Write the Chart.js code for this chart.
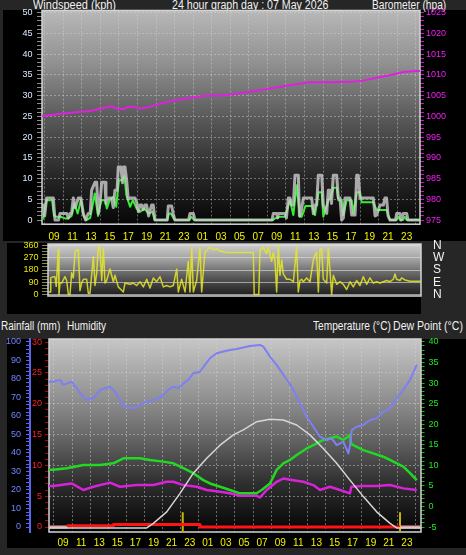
<!DOCTYPE html>
<html>
<head>
<meta charset="utf-8">
<script src="https://cdn.jsdelivr.net/npm/chart.js@4.4.1/dist/chart.umd.min.js"></script>
<style>
  body { margin: 0; width: 466px; height: 555px; background: #262626; position: relative; overflow: hidden;
         font-family: 'Liberation Sans', Arial, sans-serif; }
  .panel { position: absolute; background: #000; }
  .lbl { position: absolute; color: #f2f2f2; font-size: 12px; line-height: 12px; white-space: nowrap;
         transform-origin: 0 0; }
  canvas { position: absolute; left: 0; top: 0; }
</style>
</head>
<body>
<div class="panel" style="left:3px;top:10px;width:463px;height:231px"></div>
<div class="panel" style="left:7px;top:243px;width:414px;height:71px"></div>
<div class="panel" style="left:7px;top:339px;width:459px;height:209px"></div>

<div class="lbl" style="left:33px;top:-1px;transform:scaleX(0.915)">Windspeed (kph)</div>
<div class="lbl" style="left:172px;top:-1px;transform:scaleX(0.885)">24 hour graph day : 07 May 2026</div>
<div class="lbl" style="left:372px;top:-1px;transform:scaleX(0.85)">Barometer (hpa)</div>
<div class="lbl" style="left:1px;top:320px;transform:scaleX(0.83)">Rainfall (mm)</div>
<div class="lbl" style="left:67px;top:320px;transform:scaleX(0.835)">Humidity</div>
<div class="lbl" style="left:313px;top:320px;transform:scaleX(0.845)">Temperature (°C)</div>
<div class="lbl" style="left:393px;top:320px;transform:scaleX(0.88)">Dew Point (°C)</div>

<canvas id="windChart" width="466" height="555"></canvas>
<canvas id="dirChart" width="466" height="555"></canvas>
<canvas id="climateChart" width="466" height="555"></canvas>

<script>
// times are hours from midnight of the first day shown
const gust = [[7.71,3.6],[7.85,3.6],[8.0,1],[8.2,5.3],[8.93,5.3],[9.11,0],[9.5,0],[9.65,1.6],[10.37,1.6],[10.55,0.5],
  [10.72,1.6],[10.9,1.6],[11.08,5.3],[11.3,3],[11.62,5.3],[11.9,5.3],[12.16,1.6],[12.4,0],[12.7,1.6],[12.9,1.6],
  [13.06,7.2],[13.42,9.1],[13.6,9.1],[13.78,1.6],[14.0,5],[14.14,9.1],[14.5,9.1],[14.6,4],[14.85,5.3],[15.2,5.3],
  [15.39,3],[15.57,7.2],[15.8,7.2],[15.93,12.8],[16.2,12.8],[16.4,9],[16.5,12.8],[16.65,12.8],[16.83,9.6],[17.0,5],
  [17.19,5.3],[17.73,5.3],[17.91,4.3],[18.1,2],[18.27,3.6],[18.45,3.6],[18.62,2.5],[18.8,3.6],[18.98,3.6],[19.2,1],
  [19.52,3.6],[19.7,3.6],[19.88,0],[21.2,0],[21.32,3.4],[21.68,3.4],[21.85,1.5],[22.04,0],[23.5,0],[23.66,1.6],
  [24.01,1.6],[24.2,0],[32.5,0],[32.63,1.6],[33.0,1.6],[33.1,0.5],[33.17,1.6],[33.89,1.6],[34.05,0.5],[34.25,5.3],
  [34.43,5.3],[34.61,3.6],[34.79,3.6],[34.97,10.8],[35.33,10.8],[35.45,1],[35.6,1.6],[35.87,5.3],[36.77,5.3],[36.95,1.5],
  [37.13,3.6],[37.3,3.6],[37.48,10.8],[37.85,10.8],[38.02,3.6],[38.39,1.6],[38.56,7.2],[38.74,7.2],[38.9,4],[39.1,10.8],
  [39.46,10.8],[39.64,5.3],[39.82,5.3],[40.0,0],[40.18,0.5],[40.36,5.3],[40.9,5.3],[41.08,1.2],[41.44,1.2],[41.62,10.8],
  [41.79,10.8],[41.97,5.3],[43.41,5.3],[43.6,1],[43.77,1.2],[44.13,3.6],[44.49,3.6],[44.66,5.3],[44.84,5.3],[45.0,1],
  [45.21,0],[45.8,0],[45.93,1.6],[46.28,1.6],[46.4,0],[46.5,0],[46.64,1.6],[47.0,1.6],[47.15,0],[48.44,0]];

const avgWind = [[7.71,0],[7.85,0.5],[8.2,4.8],[8.8,4.8],[9.0,1],[9.3,0.8],[9.7,0.8],[10.2,0.4],[10.5,0.4],[10.9,1],
  [11.2,4],[11.55,1.6],[11.9,4.8],[12.2,1],[12.5,0],[12.9,0.5],[13.4,6.4],[13.75,1],[14.1,4.8],[14.5,4.8],
  [14.7,2.8],[15.0,4.8],[15.4,5.6],[15.7,3.2],[16.0,9.6],[16.3,9.6],[16.6,10.6],[16.8,6],[17.2,3.2],[17.5,4.8],
  [17.9,2.8],[18.3,2.0],[18.7,2.8],[19.2,1.6],[19.6,2],[19.85,0],[21.2,0],[21.4,1.6],[21.6,1.6],[22.0,0],
  [23.6,0],[23.8,0.8],[24.1,0],[32.6,0],[32.8,0.4],[33.35,0.8],[33.9,0.8],[34.43,4.8],[34.79,1.2],[35.15,8.4],
  [35.5,0.8],[35.7,0.8],[36.1,3.4],[36.8,3.4],[37.13,1.2],[37.5,6.7],[37.85,6.7],[38.02,0.8],[38.6,5],[38.74,5],
  [39.1,7.8],[39.46,7.8],[39.64,4.8],[40.0,4.8],[40.18,1.2],[40.54,4.8],[41.08,4.8],[41.26,1.6],[41.62,6.7],[41.97,6.7],
  [42.15,4.3],[43.41,4.3],[43.77,2.4],[44.84,2.4],[45.2,0],[45.9,0],[46.1,0.8],[46.3,0],[46.6,0],[46.8,0.8],
  [47.0,0],[48.44,0]];

const barometer = [[7.71,1000.0],[7.85,1000.1],[9.29,1000.5],[11.08,1000.9],[12.88,1001.3],[14.68,1002.2],[15.22,1002.5],
  [15.6,1002.0],[16.47,1001.7],[17.0,1002.3],[17.55,1002.3],[18.27,1001.8],[19.34,1002.3],[20.42,1003.0],[21.86,1003.8],
  [23.3,1004.3],[25.45,1005.0],[26.89,1005.0],[28.32,1005.3],[30.12,1005.9],[32.28,1006.7],[34.43,1007.5],[36.59,1008.2],
  [38.74,1008.2],[40.9,1008.3],[42.33,1008.6],[43.77,1009.3],[45.21,1009.9],[46.64,1010.7],[48.08,1010.9],[48.44,1010.9]];

const windDir = [[7.71,19],[7.92,19],[8.0,122],[8.28,131],[8.46,131],[8.6,60],[8.83,328],[8.9,0],[9.0,84],[9.19,84],
  [9.55,131],[9.74,103],[9.92,0],[10.1,0],[10.28,159],[10.46,122],[10.65,309],[10.83,328],[11.01,328],[11.19,28],
  [11.37,84],[11.56,112],[11.92,112],[12.1,9],[12.28,9],[12.65,281],[12.83,66],[13.0,150],[13.19,347],[13.37,347],
  [13.56,103],[13.74,337],[13.92,84],[14.1,103],[14.46,187],[14.83,94],[15.01,141],[15.37,56],[15.92,19],[16.1,84],
  [16.65,75],[17.01,84],[17.37,66],[17.74,94],[18.1,56],[18.47,112],[18.83,47],[19.19,122],[19.56,94],[19.92,131],
  [20.28,56],[20.65,66],[21.01,56],[21.37,66],[21.74,187],[21.92,19],[22.28,112],[22.65,19],[23.01,244],[23.19,19],
  [23.38,347],[23.56,19],[23.92,103],[24.28,347],[24.47,19],[24.65,169],[24.83,309],[25.19,337],[25.38,347],[25.74,328],
  [26.1,337],[26.47,319],[27.19,309],[29.74,309],[30.1,309],[30.2,0],[30.7,0],[30.83,328],[31.19,347],[31.56,300],
  [31.74,347],[32.1,244],[32.29,309],[32.47,244],[32.65,19],[32.83,356],[33.01,141],[33.2,253],[33.38,150],[33.56,131],
  [33.74,112],[34.1,112],[34.47,94],[34.83,347],[35.01,19],[35.2,103],[35.38,112],[35.56,94],[35.92,122],[36.29,94],
  [36.65,253],[36.83,290],[37.01,309],[37.2,19],[37.38,328],[37.56,337],[37.74,112],[38.11,84],[38.29,347],[38.65,0],
  [38.83,141],[39.2,75],[39.56,94],[39.92,75],[40.29,37],[40.65,94],[41.01,56],[41.38,103],[41.74,66],[42.1,131],
  [42.47,75],[42.83,122],[43.2,84],[43.56,94],[43.92,84],[44.29,94],[44.65,103],[45.01,94],[45.38,112],[45.56,150],
  [45.74,112],[46.1,103],[46.29,122],[46.65,107],[47.2,98],[48.4,98]];

const humidity = [[7.45,78.5],[7.93,78.5],[8.67,79.5],[9.04,76.8],[9.96,78.5],[10.51,75],[11.06,71.4],[11.62,68.6],
  [12.17,69.5],[12.54,70.4],[13.09,74.1],[13.64,75],[14.19,75.8],[14.75,73.1],[15.3,68.6],[15.67,65],[16.22,65],
  [16.77,64.1],[17.51,65.9],[18.25,67.7],[18.98,68.6],[19.53,69.5],[20.09,71.4],[20.64,74.1],[21.19,75.8],[21.75,75],
  [22.3,77.6],[22.85,79.5],[23.4,83.1],[24.14,83.9],[24.69,87.6],[25.24,91.2],[25.98,93.9],[26.72,94.8],[27.45,95.7],
  [28.19,96.2],[28.56,96.6],[29.66,97.8],[30.77,98.4],[31.14,97.5],[31.87,92.1],[32.61,87.6],[33.35,82.2],[33.9,78.5],
  [34.45,74.1],[35.19,66.8],[35.92,59.6],[36.66,54.2],[37.4,48.8],[38.13,47],[38.69,47.9],[39.24,44.3],[39.98,46.1],
  [40.53,39.8],[40.71,44],[40.9,52.4],[41.45,54.2],[42.19,55.1],[42.92,57.8],[43.66,58.7],[44.4,62.3],[45.14,64.1],
  [45.87,69.5],[46.61,74.1],[47.35,79.5],[48.09,87.6]];

const temperature = [[7.45,8.9],[7.93,8.9],[9.41,9.3],[11.25,10.1],[13.09,10.1],[14.56,10.5],[15.67,11.7],[17.51,11.7],
  [18.61,11.3],[20.09,10.9],[21.19,10.5],[22.3,9.3],[23.4,8.1],[24.51,6.4],[25.24,5.6],[26.35,4.8],[27.45,4.0],
  [28.56,3.2],[30.4,3.2],[30.95,4.0],[31.87,5.6],[32.61,8.9],[33.35,10.5],[34.08,11.3],[34.82,12.5],[35.92,14.1],
  [36.66,14.9],[37.76,16.2],[38.5,16.6],[39.24,17.0],[39.98,16.2],[40.53,17.0],[40.7,17.5],[40.85,15.2],[41.08,14.9],
  [42.19,13.7],[43.29,12.9],[44.4,12.1],[45.51,10.9],[46.61,9.7],[47.35,8.1],[48.09,6.4]];

const dewPoint = [[7.45,5.0],[7.93,5.0],[9.96,5.6],[11.25,4.0],[12.35,4.8],[14.19,5.8],[15.3,4.8],[17.14,5.2],
  [18.98,5.2],[20.46,6.0],[21.19,6.0],[22.3,5.2],[23.77,4.8],[24.88,4.0],[26.35,3.6],[27.45,3.2],[28.56,2.6],
  [30.4,2.6],[30.77,2.2],[31.5,4.0],[32.61,6.0],[33.35,6.8],[34.45,6.4],[35.55,6.0],[36.66,5.2],[37.4,4.0],
  [38.5,4.8],[39.61,4.0],[40.71,3.2],[40.85,4.8],[42.19,5.0],[43.66,5.0],[45.14,5.2],[46.61,4.4],[48.09,4.0]];

// grey daylight curve, read against the temperature scale
const sunCurve = [[7.45,-5.2],[18.25,-5.2],[18.98,-4.1],[20.46,-1.3],[21.93,3.2],[23.4,8.1],[24.88,11.7],[26.35,14.9],
  [27.82,17.4],[28.93,18.6],[30.4,20.6],[31.87,21.2],[33.35,21.0],[34.82,19.8],[36.29,17.4],[37.76,14.1],[39.24,10.5],
  [40.71,6.4],[42.19,2.4],[43.66,-1.3],[45.14,-4.1],[45.87,-5.2],[48.56,-5.2]];

const rainfall = [[7.45,0],[9.41,0.2],[14.56,0.4],[24.14,0],[46.24,0],[48.56,0]];
const rainRateTimes = [22.23, 46.24];
const rainRateValues = [2.4, 2.4];

const compassDegrees = [0, 90, 180, 270, 360];
const compassLabels = ['N', 'E', 'S', 'W', 'N'];

const FONT = "'Liberation Sans', Arial, sans-serif";
const GRID = 'rgba(215,215,215,0.45)';

const pts = arr => arr.map(([x, y]) => ({ x, y }));
const range = (a, b, s) => { const r = []; for (let v = a; v <= b + 1e-9; v += s) r.push(+v.toFixed(3)); return r; };
const setTicks = vals => axis => { axis.ticks = vals.map(v => ({ value: v })); };

const panelPlugin = {
    id: 'panel',
    beforeDraw(chart, args, opts) {
        const { ctx, chartArea: a } = chart;
        const g = ctx.createLinearGradient(0, a.top, 0, a.bottom);
        opts.stops.forEach(s => g.addColorStop(s[0], s[1]));
        ctx.save();
        ctx.fillStyle = g;
        ctx.fillRect(a.left, a.top, a.right - a.left, a.bottom - a.top);
        ctx.restore();
    },
    beforeDatasetsDraw(chart) {
        const { ctx, chartArea: a } = chart;
        ctx.save();
        ctx.strokeStyle = '#d4d4d4';
        ctx.lineWidth = 1.5;
        ctx.strokeRect(a.left, a.top, a.right - a.left, a.bottom - a.top);
        ctx.restore();
    }
};

function timeAxis(min, max, pad, show) {
    return {
        type: 'linear', min, max, display: show,
        afterBuildTicks: setTicks(range(Math.ceil(min), Math.floor(max), 1)),
        afterFit: a => { a.height = 16; },
        ticks: {
            autoSkip: false, maxRotation: 0, minRotation: 0, padding: pad,
            color: '#f4f400', font: { size: 10, family: FONT },
            callback: v => v % 2 ? String(v % 24).padStart(2, '0') : ''
        },
        grid: { drawTicks: false, color: c => c.tick && c.tick.value % 2 === 0 ? GRID : 'transparent' },
        border: { display: false, dash: [2, 2] }
    };
}

const baseOptions = (padding, scales, stops) => ({
    responsive: false,
    animation: false,
    events: [],
    layout: { padding },
    elements: { point: { radius: 0 }, line: { tension: 0, borderJoinStyle: 'round', fill: false } },
    plugins: { legend: { display: false }, tooltip: { enabled: false }, panel: { stops } },
    scales
});

// windspeed + barometer
new Chart(document.getElementById('windChart'), {
    type: 'line',
    plugins: [panelPlugin],
    data: {
        datasets: [
            { data: pts(gust), yAxisID: 'y', borderColor: 'rgba(205,205,205,0.8)', borderWidth: 3 },
            { data: pts(avgWind), yAxisID: 'y', borderColor: '#34ee34', borderWidth: 2 },
            { data: pts(barometer), yAxisID: 'yP', borderColor: '#e020e0', borderWidth: 2 }
        ]
    },
    options: baseOptions({ top: 10.5, bottom: 314.8, left: 0, right: 0 }, {
        x: timeAxis(7.71, 48.44, 7, true),
        y: {
            position: 'left', min: -1, max: 50.5,
            afterBuildTicks: setTicks(range(0, 50, 1)),
            afterFit: a => { a.width = 42; },
            ticks: { autoSkip: false, padding: 4.5, color: '#dcecff', font: { size: 9, family: FONT },
                     callback: v => v % 5 === 0 ? v : '' },
            grid: { tickLength: 5, tickColor: '#8a8a8a',
                    color: c => c.tick && c.tick.value % 5 === 0 && c.tick.value > 0 ? GRID : 'transparent' },
            border: { display: false, dash: [2, 2] }
        },
        yP: {
            position: 'right', min: 974, max: 1025.5,
            afterBuildTicks: setTicks(range(975, 1025, 1)),
            afterFit: a => { a.width = 46; },
            ticks: { autoSkip: false, padding: 2, color: '#f020f0', font: { size: 9, family: FONT },
                     callback: v => v % 5 === 0 ? v : '' },
            grid: { drawOnChartArea: false, tickLength: 4, tickColor: '#c018c0' },
            border: { display: false }
        }
    }, [[0, '#b8b8b8'], [0.25, '#909090'], [0.5, '#5a5a5a'], [0.78, '#262626'], [1, '#060606']])
});

// wind direction
new Chart(document.getElementById('dirChart'), {
    type: 'line',
    plugins: [panelPlugin],
    data: {
        datasets: [
            { data: pts(windDir), yAxisID: 'y', borderColor: 'rgba(232,232,40,0.85)', borderWidth: 1.5 }
        ]
    },
    options: baseOptions({ top: 244, bottom: 243, left: 0, right: 0 }, {
        x: timeAxis(7.7, 48.4, 0, false),
        y: {
            position: 'left', min: -11, max: 371,
            afterBuildTicks: setTicks(range(0, 360, 22.5)),
            afterFit: a => { a.width = 48; },
            ticks: { autoSkip: false, padding: 3.5, color: '#e8e800', font: { size: 9, family: FONT },
                     callback: v => v % 90 === 0 ? v : '' },
            grid: { tickLength: 6, tickColor: '#8a8a50',
                    color: c => c.tick && c.tick.value % 90 === 0 ? 'rgba(225,225,225,0.6)' : 'transparent' },
            border: { display: false }
        },
        yC: {
            position: 'right', min: -11, max: 371,
            afterBuildTicks: setTicks(compassDegrees),
            afterFit: a => { a.width = 45; },
            ticks: { autoSkip: false, padding: 12, color: '#f2f2f2', font: { size: 12, family: FONT },
                     callback: (v, i) => compassLabels[i] },
            grid: { drawOnChartArea: false, drawTicks: false },
            border: { display: false }
        }
    }, [[0, '#d0d0d0'], [0.3, '#a0a0a0'], [0.65, '#555555'], [1, '#1c1c1c']])
});

// rain, humidity, temperature, dew point
const rainPink = '#e8a0a0';
new Chart(document.getElementById('climateChart'), {
    type: 'line',
    plugins: [panelPlugin],
    data: {
        datasets: [
            { data: pts(sunCurve), yAxisID: 'yT', borderColor: '#d6d6d6', borderWidth: 1.5 },
            { data: pts(humidity), yAxisID: 'yH', borderColor: '#7f7ff4', borderWidth: 2 },
            { data: pts(temperature), yAxisID: 'yT', borderColor: '#22d822', borderWidth: 2.5 },
            { data: pts(dewPoint), yAxisID: 'yT', borderColor: '#d822d8', borderWidth: 2.5 },
            { data: pts(rainfall), yAxisID: 'yR', borderColor: '#ff1414', borderWidth: 3, stepped: true,
              segment: { borderColor: c => (c.p0.parsed.x < rainfall[1][0] || c.p0.parsed.x >= rainfall[4][0]) ? rainPink : undefined } },
            { data: rainRateTimes.flatMap((t, i) => [{ x: t, y: -0.81 }, { x: t, y: rainRateValues[i] }, { x: t, y: null }]),
              yAxisID: 'yR', borderColor: '#c8b400', borderWidth: 2, spanGaps: false }
        ]
    },
    options: baseOptions({ top: 339, bottom: 7, left: 0, right: 0 }, {
        x: timeAxis(7.45, 48.56, 5, true),
        yH: {
            position: 'left', weight: 1, min: -2.7, max: 101.6,
            afterBuildTicks: setTicks(range(0, 100, 2)),
            afterFit: a => { a.width = 30; },
            ticks: { autoSkip: false, padding: 5, color: '#7484ff', font: { size: 9, family: FONT },
                     callback: v => v % 10 === 0 ? v : '' },
            grid: { drawOnChartArea: false, tickLength: 4, tickColor: '#5a64f0' },
            border: { display: true, color: '#5a64f0', width: 2 }
        },
        yR: {
            position: 'left', weight: 0, min: -0.81, max: 30.49,
            afterBuildTicks: setTicks(range(0, 30, 1)),
            afterFit: a => { a.width = 19; },
            ticks: { autoSkip: false, padding: 3, color: '#ff2020', font: { size: 9, family: FONT },
                     callback: v => v % 5 === 0 ? v : '' },
            grid: { tickLength: 4, tickColor: '#b00000',
                    color: c => c.tick && c.tick.value % 5 === 0 && c.tick.value > 0 && c.tick.value < 30 ? GRID : 'transparent' },
            border: { display: false, dash: [2, 2] }
        },
        yT: {
            position: 'right', min: -6.2, max: 40.7,
            afterBuildTicks: setTicks(range(-5, 40, 1)),
            afterFit: a => { a.width = 45; },
            ticks: { autoSkip: false, padding: 4, color: '#22e822', font: { size: 9, family: FONT },
                     callback: v => v % 5 === 0 ? v : '' },
            grid: { drawOnChartArea: false, tickLength: 3.5, tickColor: '#1cb41c' },
            border: { display: false }
        }
    }, [[0, '#c6c6c6'], [0.3, '#929292'], [0.5, '#686868'], [0.75, '#2e2e2e'], [1, '#040404']])
});
</script>
</body>
</html>
